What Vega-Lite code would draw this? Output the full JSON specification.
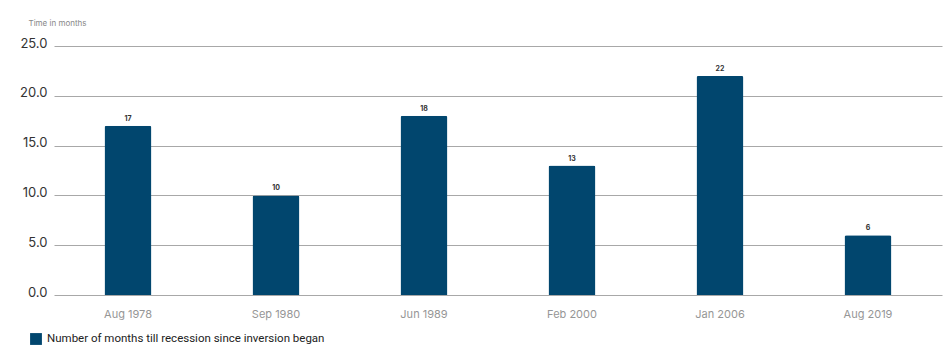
{
  "$schema": "https://vega.github.io/schema/vega-lite/v6.json",
  "width": 888,
  "height": 249,
  "autosize": {"type": "none"},
  "padding": {"left": 54, "top": 46, "right": 10, "bottom": 67},
  "background": "white",
  "config": {
    "font": "Inter",
    "view": {"stroke": null}
  },
  "data": {
    "values": [
      {"period": "Aug 1978", "months": 17, "series": "Number of months till recession since inversion began"},
      {"period": "Sep 1980", "months": 10, "series": "Number of months till recession since inversion began"},
      {"period": "Jun 1989", "months": 18, "series": "Number of months till recession since inversion began"},
      {"period": "Feb 2000", "months": 13, "series": "Number of months till recession since inversion began"},
      {"period": "Jan 2006", "months": 22, "series": "Number of months till recession since inversion began"},
      {"period": "Aug 2019", "months": 6, "series": "Number of months till recession since inversion began"}
    ]
  },
  "encoding": {
    "x": {
      "field": "period",
      "type": "nominal",
      "sort": null,
      "scale": {"paddingInner": 0, "paddingOuter": 0},
      "axis": {
        "title": null,
        "labelAngle": 0,
        "domain": false,
        "ticks": false,
        "labelColor": "#969696",
        "labelFontSize": 11,
        "labelPadding": 13
      }
    },
    "y": {
      "field": "months",
      "type": "quantitative",
      "scale": {"domain": [0, 25]},
      "axis": {
        "values": [0, 5, 10, 15, 20, 25],
        "format": ".1f",
        "domain": false,
        "ticks": false,
        "gridColor": "#a8a8a8",
        "gridWidth": 1,
        "labelColor": "#333333",
        "labelFontSize": 13,
        "labelPadding": 7,
        "labelOffset": -3,
        "title": "Time in months",
        "titleAngle": 0,
        "titleAlign": "left",
        "titleBaseline": "middle",
        "titleX": -26,
        "titleY": -23,
        "titleFontSize": 8,
        "titleFontWeight": "normal",
        "titleColor": "#888888"
      }
    }
  },
  "layer": [
    {
      "mark": {"type": "bar", "size": 47, "cornerRadiusTopLeft": 2, "cornerRadiusTopRight": 2},
      "encoding": {
        "color": {
          "field": "series",
          "type": "nominal",
          "scale": {"range": ["#01466e"]},
          "legend": {
            "title": null,
            "orient": "none",
            "legendX": -24,
            "legendY": 287,
            "symbolType": "square",
            "symbolSize": 140,
            "symbolStrokeWidth": 0,
            "symbolOpacity": 1,
            "labelFont": "Roboto",
            "labelFontSize": 11.5,
            "labelColor": "#222222",
            "labelOffset": 5,
            "labelLimit": 600
          }
        }
      }
    },
    {
      "mark": {"type": "text", "dy": -7, "fontSize": 7, "fontWeight": "bold", "color": "#333333"},
      "encoding": {
        "text": {"field": "months", "type": "quantitative"}
      }
    }
  ]
}
